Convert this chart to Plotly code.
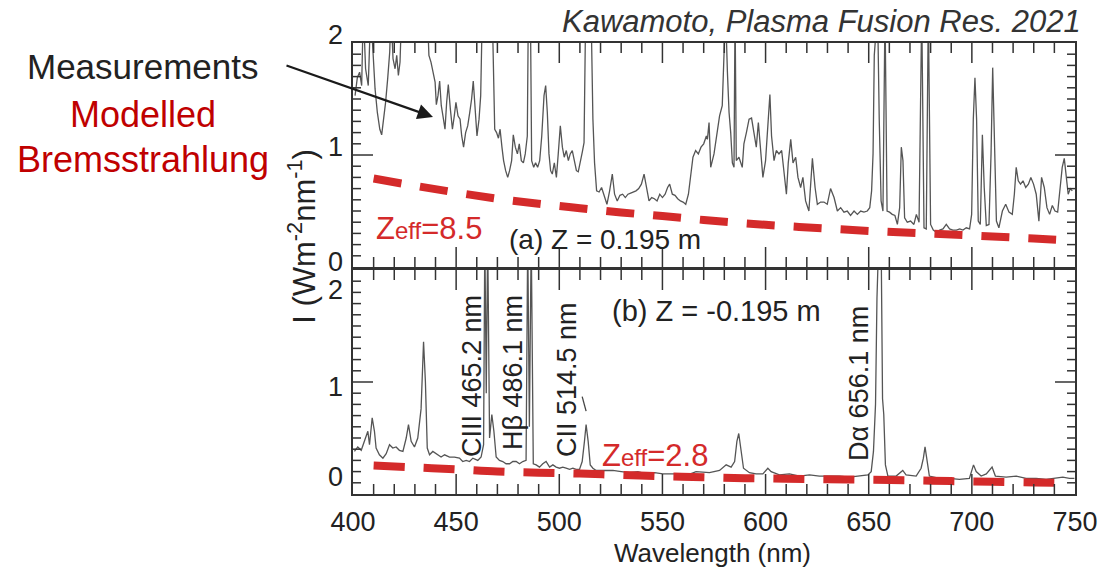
import plotly.graph_objects as go

# ---------------- data (wavelength nm, intensity W m^-2 nm^-1) ----------------
meas_a = [(401.0,1.53),(402.1,1.69),(403.2,1.74),(404.2,1.62),(405.0,2.3),(406.1,1.77),(407.4,1.62),(408.6,2.3),(409.7,1.92),(410.7,1.59),(411.8,1.38),(413.0,1.23),(413.9,1.18),(414.7,1.29),(415.8,1.47),(416.8,1.68),(417.8,1.92),(418.4,2.3),(419.4,1.86),(420.4,1.77),(421.2,1.89),(422.0,1.71),(422.8,1.83),(423.6,2.3),(428.0,2.3),(432.0,2.3),(436.0,2.3),(436.8,1.89),(437.8,1.83),(438.8,1.74),(439.8,1.65),(440.4,1.45),(441.2,1.53),(442.0,1.66),(442.8,1.44),(443.6,1.35),(444.6,1.23),(445.4,1.47),(446.2,1.63),(447.2,1.41),(448.2,1.23),(449.1,1.35),(449.9,1.47),(450.9,1.35),(451.9,1.32),(452.7,1.17),(453.6,1.07),(454.6,1.20),(455.6,1.26),(456.6,1.38),(457.5,1.50),(458.3,1.66),(459.1,1.47),(460.1,1.17),(461.1,1.32),(461.9,1.53),(462.7,2.3),(464.0,2.3),(465.9,2.3),(467.5,2.3),(468.7,1.23),(469.6,1.20),(470.5,1.15),(471.3,1.23),(472.2,1.07),(473.0,0.95),(474.0,0.86),(475.0,0.80),(475.9,0.86),(476.9,0.95),(477.7,1.18),(478.7,1.07),(479.7,1.01),(480.6,1.10),(481.6,0.95),(482.6,0.93),(483.5,1.01),(484.5,1.17),(485.0,2.3),(486.0,2.3),(486.6,0.95),(487.6,0.89),(488.5,0.93),(489.5,0.89),(490.5,0.95),(491.5,1.17),(492.6,1.53),(493.4,1.62),(494.2,1.38),(495.0,1.01),(495.8,0.86),(496.6,0.83),(497.6,0.93),(498.6,0.80),(499.5,1.01),(500.5,1.26),(501.5,1.07),(502.4,0.98),(503.4,1.04),(504.4,0.95),(505.3,1.01),(506.3,1.04),(507.3,0.95),(508.3,0.86),(509.2,0.85),(510.2,0.93),(511.2,1.03),(512.0,1.11),(512.8,2.3),(514.1,2.3),(515.4,2.3),(516.3,1.32),(517.1,0.93),(518.1,0.68),(519.3,0.67),(520.5,0.71),(521.8,0.64),(523.1,0.56),(524.4,0.68),(525.7,0.83),(526.8,0.65),(528.1,0.59),(529.4,0.64),(530.7,0.65),(532.0,0.62),(533.3,0.65),(534.6,0.66),(535.9,0.67),(537.2,0.68),(538.5,0.70),(539.8,0.74),(541.1,0.83),(542.2,0.71),(543.5,0.59),(544.8,0.62),(546.1,0.61),(547.4,0.59),(548.7,0.65),(550.0,0.62),(551.3,0.65),(552.5,0.71),(553.5,0.74),(554.8,0.65),(556.1,0.64),(557.4,0.61),(558.7,0.59),(560.0,0.58),(561.3,0.56),(562.6,0.65),(563.7,0.83),(564.8,0.98),(566.1,1.04),(567.4,1.01),(568.7,1.07),(570.0,1.10),(571.3,1.17),(571.8,1.14),(572.6,1.29),(573.4,0.89),(575.0,1.01),(576.6,1.20),(577.7,1.35),(579.0,1.44),(579.8,1.98),(580.6,2.3),(581.5,1.74),(582.3,1.38),(583.1,1.20),(583.9,0.93),(584.7,0.89),(585.2,2.3),(585.8,0.95),(587.1,0.98),(588.7,0.89),(589.5,1.10),(590.7,1.20),(592.0,1.32),(593.2,1.33),(594.4,1.17),(595.5,1.07),(596.5,1.29),(597.6,1.07),(598.7,0.80),(600.0,0.95),(601.3,1.29),(602.1,1.54),(602.9,1.17),(604.1,0.95),(605.2,1.04),(606.5,1.01),(607.8,1.04),(608.9,0.86),(610.1,0.65),(611.0,0.93),(612.2,1.14),(613.3,0.93),(614.6,0.98),(615.7,0.80),(617.0,0.71),(618.1,0.80),(619.4,0.59),(621.0,0.50),(622.7,0.97),(624.0,0.71),(625.1,0.56),(626.7,0.58),(628.3,0.58),(629.9,0.56),(631.5,0.70),(633.2,0.62),(634.8,0.50),(636.4,0.53),(638.0,0.49),(639.6,0.50),(641.2,0.46),(642.9,0.50),(644.5,0.47),(646.1,0.50),(647.7,0.49),(649.3,0.50),(650.5,0.53),(651.4,0.68),(652.1,1.01),(652.7,1.89),(653.4,2.3),(654.3,2.3),(655.1,1.32),(656.0,0.59),(656.9,0.50),(657.9,2.3),(658.9,0.50),(660.1,0.49),(661.4,0.47),(662.7,0.46),(663.9,0.38),(665.0,0.53),(665.8,1.07),(666.6,0.95),(667.4,0.44),(668.7,0.40),(670.3,0.41),(671.9,0.38),(673.1,0.47),(674.4,0.40),(675.7,2.3),(676.8,0.35),(677.9,0.34),(678.9,2.3),(680.0,0.38),(681.3,0.33),(682.8,0.31),(684.4,0.33),(686.0,0.34),(687.6,0.38),(689.2,0.34),(690.8,0.33),(692.5,0.33),(694.1,0.34),(695.7,0.33),(697.3,0.35),(698.9,0.34),(699.9,0.47),(700.7,1.32),(701.5,1.69),(702.3,1.32),(703.1,0.41),(704.1,0.38),(705.1,1.18),(706.0,0.71),(707.0,0.37),(708.3,0.38),(709.3,1.01),(710.1,1.78),(710.9,1.17),(711.9,0.41),(713.1,0.35),(714.8,0.50),(716.4,0.56),(718.0,0.49),(719.6,0.47),(720.6,0.65),(721.5,0.89),(722.5,0.77),(723.6,0.74),(724.8,0.77),(726.1,0.71),(727.4,0.74),(728.6,0.80),(729.9,0.74),(731.2,0.65),(732.5,0.41),(733.8,0.80),(735.1,0.71),(736.4,0.53),(737.7,0.47),(739.0,0.55),(740.3,0.50),(741.6,0.49),(742.9,0.74),(743.8,0.89),(744.8,0.97),(745.8,0.77),(746.7,0.65),(747.7,0.70),(748.7,0.68)]

meas_b = [(400.7,0.38),(402.3,0.42),(404.0,0.39),(405.6,0.47),(407.2,0.56),(408.0,0.44),(409.3,0.68),(410.4,0.56),(411.2,0.41),(412.8,0.35),(414.5,0.32),(416.1,0.36),(417.7,0.44),(419.3,0.41),(420.9,0.42),(422.5,0.39),(424.2,0.38),(425.8,0.50),(426.9,0.62),(428.2,0.47),(429.8,0.42),(431.4,0.50),(433.0,0.76),(434.2,1.36),(435.1,1.00),(436.0,0.41),(437.1,0.35),(438.7,0.38),(440.3,0.36),(442.7,0.33),(444.4,0.35),(446.8,0.33),(449.2,0.33),(451.6,0.32),(453.2,0.29),(454.9,0.30),(456.5,0.29),(458.1,0.32),(460.5,0.30),(462.1,0.33),(463.3,0.44),(463.9,2.3),(464.6,0.90),(465.3,2.3),(466.2,0.50),(467.3,0.71),(468.3,0.56),(469.4,0.33),(471.0,0.30),(472.6,0.29),(474.2,0.27),(475.9,0.27),(477.5,0.29),(479.1,0.29),(480.7,0.27),(482.3,0.29),(483.9,0.30),(484.7,2.3),(485.5,0.60),(486.4,2.3),(487.4,0.27),(488.8,0.26),(490.4,0.24),(492.0,0.27),(493.6,0.29),(495.3,0.24),(496.9,0.26),(498.5,0.24),(500.1,0.23),(501.7,0.24),(503.3,0.23),(505.0,0.22),(506.6,0.23),(508.2,0.22),(509.8,0.22),(511.1,0.29),(512.2,0.47),(513.0,0.62),(514.0,0.47),(515.0,0.26),(516.3,0.23),(517.9,0.21),(521.9,0.21),(526.0,0.21),(530.0,0.20),(534.0,0.19),(538.1,0.20),(542.1,0.18),(546.2,0.19),(550.2,0.18),(554.2,0.18),(558.3,0.18),(562.3,0.17),(566.3,0.20),(572.8,0.19),(577.7,0.21),(580.9,0.26),(583.3,0.24),(585.0,0.29),(586.1,0.47),(587.0,0.54),(588.2,0.38),(589.3,0.23),(592.2,0.19),(595.4,0.18),(598.7,0.18),(601.1,0.23),(602.7,0.20),(606.7,0.17),(611.6,0.18),(616.4,0.16),(621.3,0.17),(626.1,0.16),(631.0,0.16),(635.8,0.16),(640.7,0.15),(645.5,0.16),(649.6,0.17),(651.2,0.20),(652.3,0.38),(653.3,0.80),(654.0,1.75),(654.9,2.3),(656.0,2.3),(656.7,0.85),(657.3,0.71),(658.1,0.26),(659.3,0.16),(663.3,0.16),(666.5,0.21),(668.1,0.17),(673.0,0.16),(675.4,0.23),(676.5,0.32),(677.3,0.42),(678.3,0.29),(679.4,0.16),(684.3,0.14),(689.1,0.14),(694.0,0.13),(698.8,0.14),(700.8,0.26),(702.1,0.20),(704.5,0.16),(707.0,0.18),(709.8,0.24),(711.4,0.16),(716.6,0.15),(721.5,0.16),(726.3,0.14),(731.2,0.14),(736.0,0.13),(740.9,0.14),(744.1,0.15),(747.3,0.14),(749.7,0.14)]

brem_wl_a = [410, 430, 450, 470, 490, 510, 530, 550, 570, 590, 610, 630, 650, 670, 690, 710, 730, 750]
brem_a = [0.79, 0.725, 0.665, 0.61, 0.565, 0.525, 0.487, 0.455, 0.42, 0.39, 0.365, 0.343, 0.322, 0.305, 0.29, 0.273, 0.255, 0.235]
brem_wl_b = [410, 430, 450, 470, 490, 510, 530, 550, 570, 590, 610, 630, 650, 670, 690, 710, 730, 745]
brem_b = [0.255, 0.237, 0.22, 0.2, 0.19, 0.182, 0.17, 0.158, 0.15, 0.141, 0.136, 0.131, 0.127, 0.122, 0.115, 0.11, 0.103, 0.099]

x_range = [400, 750]
y_range = [0, 2]
x_tick_step = 50
x_minor_step = 10
y_tick_step = 1
y_minor_step = 0.1
line_labels = [("CIII 465.2 nm", 0.1648, 0.2616), ("H\u03b2 486.1 nm", 0.2216, 0.2705),
               ("CII 514.5 nm", 0.2964, 0.2528), ("D\u03b1 656.1 nm", 0.7008, 0.2461)]
y_tick_labels = [("2", 1.0177), ("1", 0.769), ("0", 0.5145), ("2", 0.4524), ("1", 0.2373), ("0", 0.0377)]

# ---------------- figure ----------------
FONT = "Liberation Sans, Arial, sans-serif"
RED = "#d42a2a"
DARKRED = "#c00000"
FRAME = "#333333"
TRACE = "#555555"
PLOT_W, PANEL_H = 722, 224          # plot-area size in px (for tick-mark lengths)
MAJOR_LEN, XMINOR_LEN, YMINOR_LEN = 20, 10, 8

wa, ia = zip(*meas_a)
wb, ib = zip(*meas_b)

fig = go.Figure()
fig.add_trace(go.Scatter(x=list(wa), y=list(ia), xaxis="x", yaxis="y", mode="lines",
                         line=dict(color=TRACE, width=1.3), showlegend=False))
fig.add_trace(go.Scatter(x=brem_wl_a, y=brem_a, xaxis="x", yaxis="y", mode="lines",
                         line=dict(color=RED, width=8, dash="28px,19px", shape="spline"),
                         showlegend=False))
fig.add_trace(go.Scatter(x=list(wb), y=list(ib), xaxis="x2", yaxis="y2", mode="lines",
                         line=dict(color=TRACE, width=1.3), showlegend=False))
fig.add_trace(go.Scatter(x=brem_wl_b, y=brem_b, xaxis="x2", yaxis="y2", mode="lines",
                         line=dict(color=RED, width=8, dash="31px,19px", shape="spline"),
                         showlegend=False))

# ---- inward tick marks on all four sides of each panel, built from the tick steps ----
px_per_x = PLOT_W / (x_range[1] - x_range[0])
px_per_y = PANEL_H / (y_range[1] - y_range[0])
n_x = int(round((x_range[1] - x_range[0]) / x_minor_step))
n_y = int(round((y_range[1] - y_range[0]) / y_minor_step))
per_major_x = int(round(x_tick_step / x_minor_step))
per_major_y = int(round(y_tick_step / y_minor_step))
tx, ty = [], []
for k in range(1, n_x):
    v = x_range[0] + k * x_minor_step
    d = (MAJOR_LEN if k % per_major_x == 0 else XMINOR_LEN) / px_per_y
    tx += [v, v, None, v, v, None]
    ty += [y_range[0], y_range[0] + d, None, y_range[1] - d, y_range[1], None]
for k in range(1, n_y):
    v = y_range[0] + k * y_minor_step
    d = (MAJOR_LEN if k % per_major_y == 0 else YMINOR_LEN) / px_per_x
    tx += [x_range[0], x_range[0] + d, None, x_range[1] - d, x_range[1], None]
    ty += [v, v, None, v, v, None]
for xa, ya in [("x", "y"), ("x2", "y2")]:
    fig.add_trace(go.Scatter(x=tx, y=ty, xaxis=xa, yaxis=ya, mode="lines",
                             line=dict(color=FRAME, width=1.5), hoverinfo="skip",
                             showlegend=False, connectgaps=False))

def xaxis_cfg(**extra):
    d = dict(range=x_range, showline=True, mirror=True, linecolor=FRAME, linewidth=1.5,
             ticks="", dtick=x_tick_step, showgrid=False, zeroline=False)
    d.update(extra)
    return d

def yaxis_cfg(**extra):
    d = dict(range=y_range, showline=True, mirror=True, linecolor=FRAME, linewidth=1.5,
             ticks="", dtick=y_tick_step, showgrid=False, zeroline=False, showticklabels=False)
    d.update(extra)
    return d

fig.update_layout(
    template="none",
    width=1102, height=573,
    margin=dict(l=353, r=27, t=43, b=79),
    showlegend=False,
    font=dict(family=FONT, color="#222222"),
    xaxis=xaxis_cfg(domain=[0, 1], anchor="y", showticklabels=False),
    yaxis=yaxis_cfg(domain=[0.5033, 1], anchor="x"),
    xaxis2=xaxis_cfg(domain=[0, 1], anchor="y2", matches="x", showticklabels=True,
                     tickfont=dict(size=27, color="#222222"), ticklabelstandoff=3),
    yaxis2=yaxis_cfg(domain=[0, 0.4967], anchor="x2"),
)

# small pointer stroke next to the CII label
fig.add_shape(type="line", xref="x2", yref="y2", x0=511.1, y0=0.87, x1=513.0, y1=0.74,
              line=dict(color="#444444", width=1.3))

ann = []
# y tick labels (placed like the original figure)
for txt, yy in y_tick_labels:
    ann.append(dict(text=txt, xref="paper", yref="paper", x=-0.0111, y=yy, xanchor="right",
                    yanchor="middle", showarrow=False, font=dict(size=27, color="#222222")))
# axis titles
ann.append(dict(text="Wavelength (nm)", xref="paper", yref="paper", x=0.4986, y=-0.131,
                xanchor="center", yanchor="middle", showarrow=False, font=dict(size=26, color="#222222")))
ann.append(dict(text="I (Wm<sup>-2</sup>nm<sup>-1</sup>)", xref="paper", yref="paper", x=-0.071, y=0.572,
                xanchor="center", yanchor="middle", textangle=-90, showarrow=False,
                font=dict(size=31, color="#222222")))
# source
ann.append(dict(text="<i>Kawamoto, Plasma Fusion Res. 2021</i>", xref="paper", yref="paper",
                x=1.011, y=1.0466, xanchor="right", yanchor="middle", showarrow=False,
                font=dict(size=31, color="#333333")))
# legend-like labels
ann.append(dict(text="Measurements", xref="paper", yref="paper", x=-0.2909, y=0.949,
                xanchor="center", yanchor="middle", showarrow=False, font=dict(size=35, color="#222222")))
ann.append(dict(text="Modelled", xref="paper", yref="paper", x=-0.2909, y=0.8404,
                xanchor="center", yanchor="middle", showarrow=False, font=dict(size=36, color=DARKRED)))
ann.append(dict(text="Bremsstrahlung", xref="paper", yref="paper", x=-0.2909, y=0.7406,
                xanchor="center", yanchor="middle", showarrow=False, font=dict(size=36, color=DARKRED)))
ann.append(dict(text="", xref="paper", yref="paper", x=0.1108, y=0.836, ax=-148, ay=-52,
                showarrow=True, arrowhead=2, arrowsize=1.4, arrowwidth=2.2, arrowcolor="#1a1a1a"))
# panel labels
ann.append(dict(text="Z<span style='font-size:24px'>eff</span>=8.5", xref="paper", yref="paper",
                x=0.1053, y=0.5876, xanchor="center", yanchor="middle", showarrow=False,
                font=dict(size=31, color=RED)))
ann.append(dict(text="Z<span style='font-size:24px'>eff</span>=2.8", xref="paper", yref="paper",
                x=0.4183, y=0.0843, xanchor="center", yanchor="middle", showarrow=False,
                font=dict(size=31, color=RED)))
ann.append(dict(text="(a) Z = 0.195 m", xref="paper", yref="paper", x=0.349, y=0.5632,
                xanchor="center", yanchor="middle", showarrow=False, font=dict(size=28, color="#222222")))
ann.append(dict(text="(b) Z = -0.195 m", xref="paper", yref="paper", x=0.5028, y=0.4058,
                xanchor="center", yanchor="middle", showarrow=False, font=dict(size=29, color="#222222")))
for txt, xx, yy in line_labels:
    ann.append(dict(text=txt, xref="paper", yref="paper", x=xx, y=yy, xanchor="center",
                    yanchor="middle", textangle=-90, showarrow=False,
                    font=dict(size=27, color="#222222")))
fig.update_layout(annotations=ann)

fig.write_html("out.html")
